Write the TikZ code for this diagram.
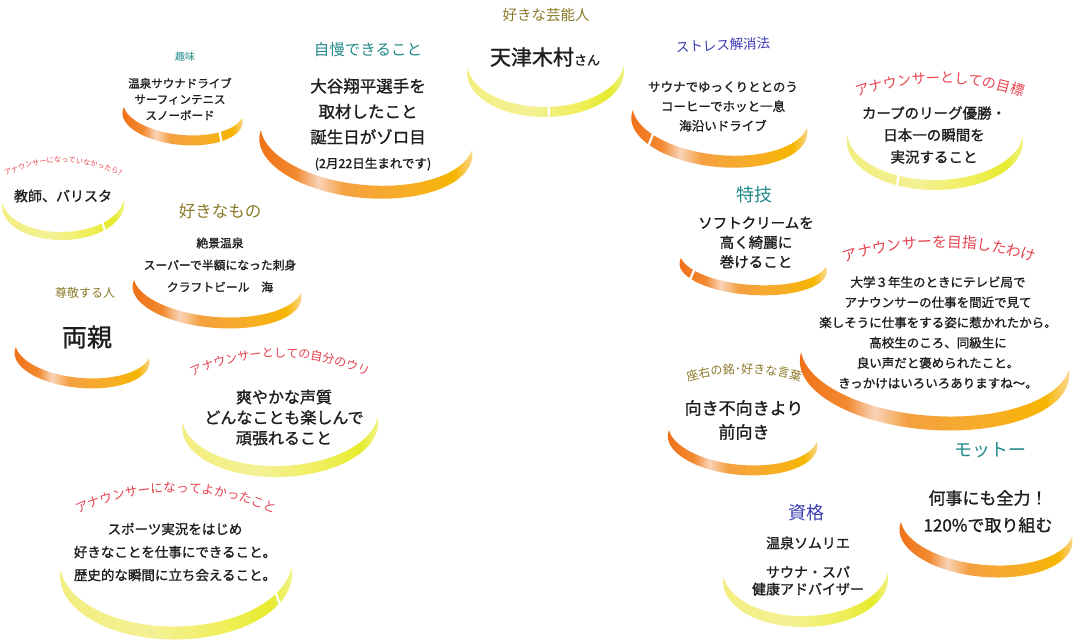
\documentclass[tikz,border=0pt]{standalone}
\usepackage{fontspec}
\setmainfont{Noto Sans CJK JP}
\newfontfamily\bodyjp{Noto Sans CJK JP}[FakeBold=1.2]
\usetikzlibrary{decorations.text}
\definecolor{ink}{HTML}{1E1E1E}
\definecolor{teal1}{HTML}{238A8A}
\definecolor{olive1}{HTML}{8C7A28}
\definecolor{blue1}{HTML}{3C3CB4}
\definecolor{red1}{HTML}{E8424F}
\definecolor{orA}{HTML}{F07018}
\definecolor{orB}{HTML}{F28A30}
\definecolor{orL}{HTML}{F9D3B8}
\definecolor{orC}{HTML}{F4A040}
\definecolor{orD}{HTML}{F7AE25}
\definecolor{orE}{HTML}{F6B500}
\definecolor{orF}{HTML}{FBDDA8}
\definecolor{yeA}{HTML}{F2EE80}
\definecolor{yeB}{HTML}{F4F195}
\definecolor{yeC}{HTML}{EFEF5C}
\definecolor{yeD}{HTML}{E6EB2E}
\definecolor{yeE}{HTML}{F1F38A}
\pgfdeclarehorizontalshading{orangecres}{100bp}{color(0bp)=(orA); color(25bp)=(orA); color(34bp)=(orB); color(39bp)=(orL); color(45bp)=(orC); color(60bp)=(orD); color(70bp)=(orE); color(75bp)=(orF); color(100bp)=(orF)}
\pgfdeclarehorizontalshading{yellowcres}{100bp}{color(0bp)=(yeA); color(25bp)=(yeA); color(45bp)=(yeB); color(60bp)=(yeC); color(70bp)=(yeD); color(75bp)=(yeE); color(100bp)=(yeE)}
% #1 gap angles (optional), #2 cx, #3 cy, #4 half width, #5 depth, #6 thickness, #7 rotation, #8 shading
\newcommand{\crescentarc}[8][]{%
\begin{scope}[shift={(#2,#3)}, rotate=#7]
\pgfmathsetmacro{\crhb}{#5-#6/2}%
\pgfmathsetmacro{\crht}{#6/2}%
\begin{scope}
\clip ({-#4-5},0) rectangle ({#4+5},{#5+5});
\shade[shading=#8, even odd rule] (0,\crht) ellipse [x radius=#4pt, y radius=\crhb pt] (0,-\crht) ellipse [x radius=#4pt, y radius=\crhb pt];
\def\gaplist{#1}%
\ifx\gaplist\empty\else
\foreach \g in {#1}{\draw[white, line width=2.2pt] ({(#4+3)*cos(\g)},{\crht+(\crhb+3)*sin(\g)}) -- ({(#4-3)*cos(\g)},{-\crht+(\crhb-3)*sin(\g)});}
\fi
\end{scope}
\end{scope}}
\tikzset{
  txt/.style 2 args={align=center, inner sep=0pt, text=ink, font=\bodyjp\fontsize{#1}{#2}\selectfont},
  hd/.style 2 args={inner sep=0pt, text=#1, font=\fontsize{#2}{#2}\selectfont},
}
\begin{document}
\begin{tikzpicture}[x=1pt,y=-1pt]
\fill[white] (0,0) rectangle (1082,644);
\useasboundingbox (0,0) rectangle (1082,644);

% crescents
\crescentarc[49]{183}{112.5}{60.3}{32.5}{10}{-5.2}{orangecres}
\crescentarc{366.5}{140}{107}{58}{13}{-5.4}{orangecres}
\crescentarc[88]{545.5}{67}{78.5}{50}{10}{0.7}{yellowcres}
\crescentarc[139]{720}{119}{88.5}{48}{12}{-5.8}{orangecres}
\crescentarc[115]{935}{137}{88}{53}{10}{0}{yellowcres}
\crescentarc[49]{63}{201.5}{61}{38.5}{8}{1.4}{yellowcres}
\crescentarc{217.5}{286.5}{84.7}{41.5}{11}{-4.4}{orangecres}
\crescentarc{82.5}{352.5}{67.7}{35.5}{10}{-4.7}{orangecres}
\crescentarc{280}{420}{98}{57}{11}{1.75}{yellowcres}
\crescentarc[29]{176}{568.5}{116}{71}{13}{0.7}{yellowcres}
\crescentarc[145]{753.5}{262.5}{73.8}{32.5}{10}{-3.5}{orangecres}
\crescentarc{935}{361}{135}{69}{14}{-3.8}{orangecres}
\crescentarc{743}{436}{75}{39}{10}{-4.6}{orangecres}
\crescentarc{986.5}{529.5}{86.8}{47.5}{12}{-5}{orangecres}
\crescentarc{805.5}{575}{82.5}{52}{11}{1.4}{yellowcres}

% headings and texts
\node[hd={teal1}{10}] (hobbyT) at (185,57) {趣味};
\node[txt={11.5}{16}] (hobbyB) at (180,99) {温泉サウナドライブ\\サーフィンテニス\\スノーボード};
\node[hd={teal1}{15.5}] (proudT) at (368,50) {自慢できること};
\node[txt={16.5}{25.5}] (proudB) at (368,111.5) {大谷翔平選手を\\取材したこと\\誕生日がゾロ目};
\node[txt={12.5}{14}] (proudC) at (373,164) {(2月22日生まれです)};
\node[hd={olive1}{14.5}] (celebT) at (546,15) {好きな芸能人};
\node[inner sep=0pt, text=ink, font=\bodyjp] (celebB) at (545,57) {{\fontsize{21}{24}\selectfont 天津木村}{\fontsize{13}{15}\selectfont さん}};
\node[hd={blue1}{13.5}, rotate=3] (stressT) at (723,45) {ストレス解消法};
\node[txt={12.5}{19.5}] (stressB) at (723,106.5) {サウナでゆっくりととのう\\コーヒーでホッと一息\\海沿いドライブ};
\node[txt={14.5}{22}] (goalB) at (934,135) {カープのリーグ優勝・\\日本一の瞬間を\\実況すること};
\node[txt={14}{16}] (notB) at (63,196) {教師、バリスタ};
\node[hd={olive1}{16.5}] (likeT) at (220,211) {好きなもの};
\node[txt={11.8}{22}] (likeB) at (220,265) {絶景温泉\\スーパーで半額になった刺身\\クラフトビール　海};
\node[hd={olive1}{12}] (respT) at (85,293) {尊敬する人};
\node[txt={25}{28}] (respB) at (87,337) {両親};
\node[txt={16}{20.5}] (sellB) at (284,417.5) {爽やかな声質\\どんなことも楽しんで\\頑張れること};
\node[txt={13.5}{23}] (goodB) at (175,552) {スポーツ実況をはじめ\\好きなことを仕事にできること。\\歴史的な瞬間に立ち会えること。};
\node[hd={teal1}{18}] (skillT) at (754,195) {特技};
\node[txt={14.5}{19.5}] (skillB) at (756,242.5) {ソフトクリームを\\高く綺麗に\\巻けること};
\node[txt={12.5}{20.2}] (whyB) at (938,332.5) {大学３年生のときにテレビ局で\\アナウンサーの仕事を間近で見て\\楽しそうに仕事をする姿に惹かれたから。\\高校生のころ、同級生に\\良い声だと褒められたこと。\\きっかけはいろいろありますね〜。};
\node[txt={17}{24}] (wordB) at (744,420) {向き不向きより\\前向き};
\node[hd={teal1}{18}] (mottoT) at (990,450) {モットー};
\node[txt={17}{27}] (mottoB) at (988,511.5) {何事にも全力！\\120\%で取り組む};
\node[hd={blue1}{18}] (qualT) at (806,513) {資格};
\node[txt={14}{17}] (qualB) at (808,566) {温泉ソムリエ\\[12pt]サウナ・スパ\\健康アドバイザー};

% curved headings
\path[decorate, decoration={text along path, text align=center, text={|\fontsize{7.2}{8}\selectfont\color{red1}|アナウンサーになっていなかったら?}}]
  plot[domain=-40:40, samples=40] ({63+127.5*sin(\x)}, {290-127.5*cos(\x)});
\path[decorate, decoration={text along path, text align=center, text={|\fontsize{14}{15}\selectfont\color{red1}|アナウンサーとしての目標}}]
  plot[domain=-28:28, samples=40] ({940+248.3*sin(\x)}, {331.3-248.3*cos(\x)});
\path[decorate, decoration={text along path, text align=center, text={|\fontsize{12}{13}\selectfont\color{red1}|アナウンサーとしての自分のウリ}}]
  plot[domain=-36:36, samples=40] ({280+203.4*sin(\x)}, {560.6-203.4*cos(\x)});
\path[decorate, decoration={text along path, text align=center, text={|\fontsize{12.6}{13}\selectfont\color{red1}|アナウンサーになってよかったこと}}]
  plot[domain=-35:35, samples=40] ({176+233.3*sin(\x)}, {725.7-233.3*cos(\x)});
\path[decorate, decoration={text along path, text align=center, text={|\fontsize{14.8}{16}\selectfont\color{red1}|アナウンサーを目指したわけ}}]
  plot[domain=-26:26, samples=40] ({939.5+305*sin(\x)}, {552.2-305*cos(\x)});
\path[decorate, decoration={text along path, text align=center, text={|\fontsize{12}{13}\selectfont\color{olive1}|座右の銘･好きな言葉}}]
  plot[domain=-26:26, samples=40] ({744+191*sin(\x)}, {564.2-191*cos(\x)});
\end{tikzpicture}
\end{document}
